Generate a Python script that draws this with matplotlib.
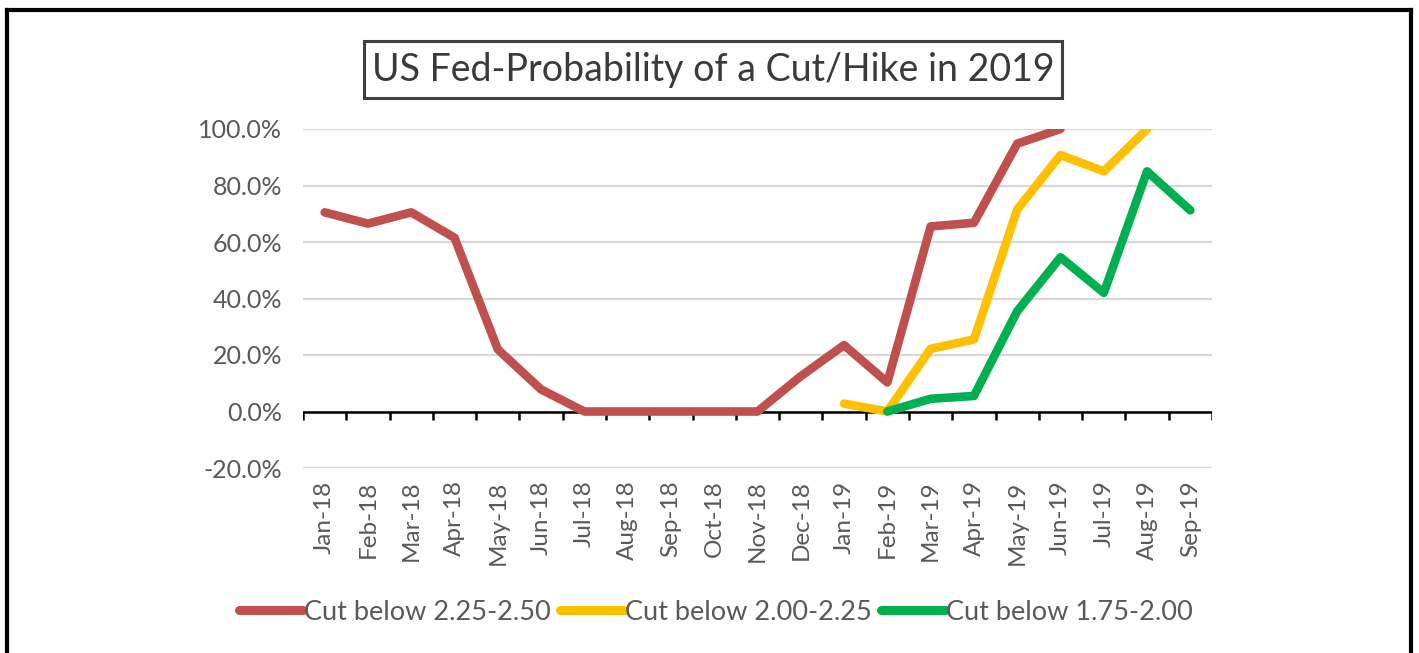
import matplotlib
matplotlib.use("Agg")
import matplotlib.pyplot as plt
from matplotlib.patches import Rectangle
from matplotlib.lines import Line2D
import numpy as np

plt.rcParams['font.family'] = ['Lato', 'DejaVu Sans']

months = ["Jan-18", "Feb-18", "Mar-18", "Apr-18", "May-18", "Jun-18", "Jul-18",
          "Aug-18", "Sep-18", "Oct-18", "Nov-18", "Dec-18", "Jan-19", "Feb-19",
          "Mar-19", "Apr-19", "May-19", "Jun-19", "Jul-19", "Aug-19", "Sep-19"]

cut_225_250 = [70.5, 66.5, 70.5, 61.5, 22.0, 7.8, 0, 0, 0, 0, 0, 12.5, 23.5, 10.3,
               65.5, 66.8, 94.8, 100.0, None, None, None]
cut_200_225 = [None] * 12 + [2.8, 0, 22.2, 25.5, 71.5, 90.8, 85.0, 100.0, None]
cut_175_200 = [None] * 13 + [0, 4.5, 5.5, 35.5, 54.6, 42.0, 85.0, 71.2]

series_names = ["Cut below 2.25-2.50", "Cut below 2.00-2.25", "Cut below 1.75-2.00"]
series_colors = ["#C0504D", "#FFC000", "#00B050"]
y_ticks = [-20, 0, 20, 40, 60, 80, 100]

W, H = 1419, 653
fig = plt.figure(figsize=(W / 100, H / 100), dpi=100)
fig.patch.set_facecolor("white")

ax = fig.add_axes([303 / W, 1 - 468 / H, (1212 - 303) / W, (468 - 129) / H])
ax.set_facecolor("white")

x = np.arange(len(months))
for vals, name, col in zip([cut_225_250, cut_200_225, cut_175_200], series_names, series_colors):
    arr = np.array([np.nan if v is None else v for v in vals], dtype=float)
    ax.plot(x, arr, color=col, lw=6.2, solid_capstyle="round", solid_joinstyle="round",
            label=name, zorder=3)

ax.set_xlim(-0.5, len(months) - 0.5)
ax.set_ylim(min(y_ticks), max(y_ticks))
ax.set_yticks(y_ticks)
ax.set_yticklabels([f"{v:.1f}%" for v in y_ticks])
ax.yaxis.grid(True, color="#D9D9D9", lw=1.6, zorder=0)
ax.set_axisbelow(True)
for s in ax.spines.values():
    s.set_visible(False)
ax.tick_params(axis="y", length=0, pad=15, labelsize=18, labelcolor="#595959")

ax.set_xticks(x)
ax.set_xticklabels(months, rotation=90, va="top", ha="center")
ax.tick_params(axis="x", length=0, pad=9, labelsize=17.5, labelcolor="#595959")

# zero axis line with category boundary ticks
ax.axhline(0, color="black", lw=1.8, zorder=2)
bounds = np.arange(len(months) + 1) - 0.5
ax.vlines(bounds, -2.9, 0, color="black", lw=1.8, zorder=2)

# title box
fig.patches.append(Rectangle((364 / W, 1 - 98 / H), (1062 - 364) / W, (98 - 41) / H,
                             transform=fig.transFigure, fill=False, edgecolor="#404040",
                             lw=2.2))
fig.text(713 / W, 1 - 70 / H, "US Fed-Probability of a Cut/Hike in 2019",
         ha="center", va="center", fontsize=27, color="#3A3A3A")

# outer border (top, left, right)
fig.add_artist(Line2D([7 / W, 1411 / W], [1 - 10 / H, 1 - 10 / H], transform=fig.transFigure,
                      color="black", lw=3))
fig.add_artist(Line2D([7 / W, 7 / W], [0, 1 - 10 / H], transform=fig.transFigure,
                      color="black", lw=3))
fig.add_artist(Line2D([1411 / W, 1411 / W], [0, 1 - 10 / H], transform=fig.transFigure,
                      color="black", lw=3))

leg = fig.legend(loc="center", bbox_to_anchor=(716 / W, 1 - 612 / H), ncol=3,
                 frameon=False, fontsize=19.5, handlelength=2.35, handletextpad=0.05,
                 columnspacing=0.35, labelcolor="#595959")
for h in leg.get_lines():
    h.set_linewidth(6.5)
    h.set_solid_capstyle("round")

fig.savefig("out.png", dpi=100, facecolor="white")
